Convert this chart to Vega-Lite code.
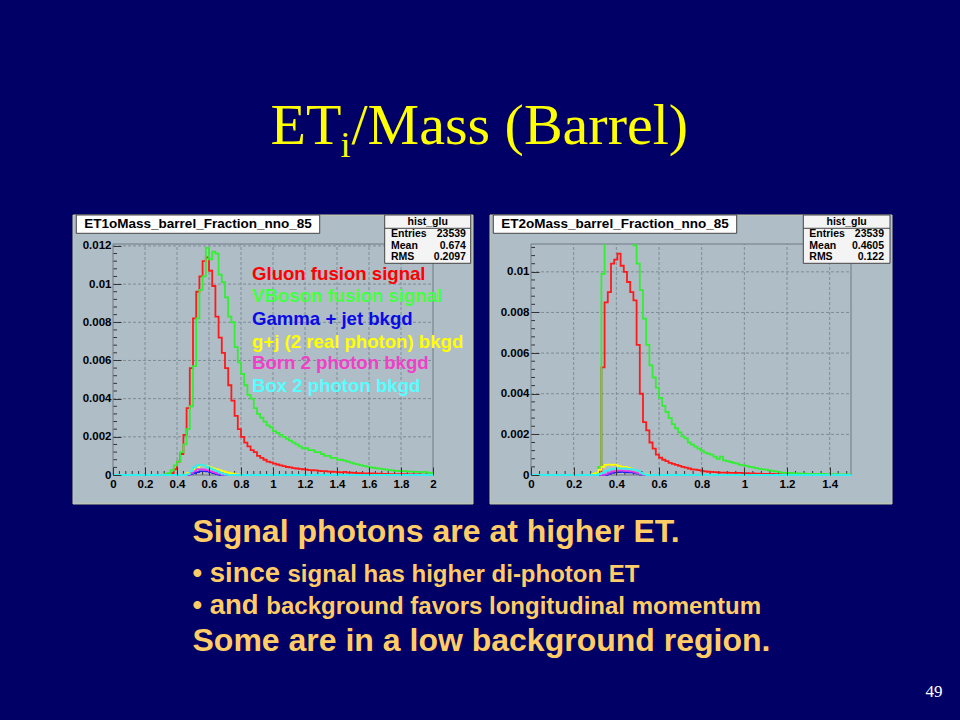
{
"$schema": "https://vega.github.io/schema/vega-lite/v6.json",
"background": "#000066",
"padding": {"left": 72, "top": 0, "right": 0, "bottom": 0},
"config": {"view": {"stroke": null}, "axis": {"labelOverlap": false, "labelSeparation": 0}},
"spacing": 0,
"datasets": {
"L": [
{"s":"r","x":0,"y":0},{"s":"r","x":0.34,"y":0.00005},{"s":"r","x":0.36,"y":0.0001},{"s":"r","x":0.38,"y":0.0003},{"s":"r","x":0.40,"y":0.0007},{"s":"r","x":0.42,"y":0.0011},{"s":"r","x":0.44,"y":0.0021},{"s":"r","x":0.46,"y":0.0035},{"s":"r","x":0.48,"y":0.0056},{"s":"r","x":0.50,"y":0.0082},{"s":"r","x":0.52,"y":0.0096},{"s":"r","x":0.54,"y":0.0104},{"s":"r","x":0.56,"y":0.0112},{"s":"r","x":0.58,"y":0.0114},{"s":"r","x":0.60,"y":0.0107},{"s":"r","x":0.62,"y":0.0099},{"s":"r","x":0.64,"y":0.0083},{"s":"r","x":0.66,"y":0.0072},{"s":"r","x":0.68,"y":0.0064},{"s":"r","x":0.70,"y":0.0056},{"s":"r","x":0.72,"y":0.0047},{"s":"r","x":0.74,"y":0.0039},{"s":"r","x":0.76,"y":0.0031},{"s":"r","x":0.78,"y":0.0024},{"s":"r","x":0.80,"y":0.0020},{"s":"r","x":0.82,"y":0.0017},{"s":"r","x":0.84,"y":0.0015},{"s":"r","x":0.86,"y":0.0013},{"s":"r","x":0.88,"y":0.0012},{"s":"r","x":0.90,"y":0.0010},{"s":"r","x":0.92,"y":0.0009},{"s":"r","x":0.94,"y":0.0008},{"s":"r","x":0.96,"y":0.0007},{"s":"r","x":0.98,"y":0.00066},{"s":"r","x":1.00,"y":0.0006},{"s":"r","x":1.02,"y":0.00055},{"s":"r","x":1.04,"y":0.0005},{"s":"r","x":1.06,"y":0.00046},{"s":"r","x":1.08,"y":0.00042},{"s":"r","x":1.10,"y":0.0004},{"s":"r","x":1.12,"y":0.00036},{"s":"r","x":1.14,"y":0.00034},{"s":"r","x":1.16,"y":0.00032},{"s":"r","x":1.18,"y":0.0003},{"s":"r","x":1.20,"y":0.00028},{"s":"r","x":1.22,"y":0.00026},{"s":"r","x":1.24,"y":0.00025},{"s":"r","x":1.26,"y":0.00024},{"s":"r","x":1.28,"y":0.00022},{"s":"r","x":1.30,"y":0.0002},{"s":"r","x":1.34,"y":0.00018},{"s":"r","x":1.36,"y":0.00017},{"s":"r","x":1.38,"y":0.00016},{"s":"r","x":1.40,"y":0.00015},{"s":"r","x":1.42,"y":0.00014},{"s":"r","x":1.44,"y":0.00016},{"s":"r","x":1.46,"y":0.00012},{"s":"r","x":1.50,"y":0.00011},{"s":"r","x":1.52,"y":0.0001},{"s":"r","x":1.56,"y":0.00009},{"s":"r","x":1.60,"y":0.00008},{"s":"r","x":1.64,"y":0.00007},{"s":"r","x":1.68,"y":0.00006},{"s":"r","x":1.72,"y":0.00005},{"s":"r","x":1.78,"y":0.00004},{"s":"r","x":1.84,"y":0.00003},{"s":"r","x":1.92,"y":0.00002},{"s":"r","x":2.0,"y":0.00002},
{"s":"g","x":0,"y":0},{"s":"g","x":0.32,"y":0.00005},{"s":"g","x":0.34,"y":0.0001},{"s":"g","x":0.36,"y":0.00025},{"s":"g","x":0.38,"y":0.0005},{"s":"g","x":0.40,"y":0.0007},{"s":"g","x":0.42,"y":0.0012},{"s":"g","x":0.44,"y":0.0016},{"s":"g","x":0.46,"y":0.0024},{"s":"g","x":0.48,"y":0.0036},{"s":"g","x":0.50,"y":0.0057},{"s":"g","x":0.52,"y":0.0082},{"s":"g","x":0.54,"y":0.0097},{"s":"g","x":0.56,"y":0.0104},{"s":"g","x":0.58,"y":0.0119},{"s":"g","x":0.60,"y":0.0113},{"s":"g","x":0.62,"y":0.0117},{"s":"g","x":0.64,"y":0.0116},{"s":"g","x":0.66,"y":0.0105},{"s":"g","x":0.68,"y":0.0101},{"s":"g","x":0.70,"y":0.0093},{"s":"g","x":0.72,"y":0.0083},{"s":"g","x":0.74,"y":0.0080},{"s":"g","x":0.76,"y":0.0067},{"s":"g","x":0.78,"y":0.0059},{"s":"g","x":0.80,"y":0.0053},{"s":"g","x":0.82,"y":0.0047},{"s":"g","x":0.84,"y":0.0042},{"s":"g","x":0.86,"y":0.0040},{"s":"g","x":0.88,"y":0.0035},{"s":"g","x":0.90,"y":0.0032},{"s":"g","x":0.92,"y":0.0030},{"s":"g","x":0.94,"y":0.0028},{"s":"g","x":0.96,"y":0.0026},{"s":"g","x":0.98,"y":0.0025},{"s":"g","x":1.00,"y":0.0023},{"s":"g","x":1.02,"y":0.0022},{"s":"g","x":1.04,"y":0.0021},{"s":"g","x":1.06,"y":0.0020},{"s":"g","x":1.08,"y":0.0019},{"s":"g","x":1.10,"y":0.0018},{"s":"g","x":1.12,"y":0.0017},{"s":"g","x":1.14,"y":0.0016},{"s":"g","x":1.16,"y":0.0015},{"s":"g","x":1.18,"y":0.0014},{"s":"g","x":1.22,"y":0.0013},{"s":"g","x":1.26,"y":0.0012},{"s":"g","x":1.30,"y":0.0011},{"s":"g","x":1.32,"y":0.0010},{"s":"g","x":1.36,"y":0.0009},{"s":"g","x":1.40,"y":0.0008},{"s":"g","x":1.44,"y":0.00075},{"s":"g","x":1.46,"y":0.0007},{"s":"g","x":1.48,"y":0.00065},{"s":"g","x":1.50,"y":0.0006},{"s":"g","x":1.52,"y":0.00056},{"s":"g","x":1.54,"y":0.00052},{"s":"g","x":1.56,"y":0.00048},{"s":"g","x":1.58,"y":0.00044},{"s":"g","x":1.60,"y":0.0004},{"s":"g","x":1.62,"y":0.00038},{"s":"g","x":1.64,"y":0.00035},{"s":"g","x":1.66,"y":0.00033},{"s":"g","x":1.68,"y":0.0003},{"s":"g","x":1.70,"y":0.00028},{"s":"g","x":1.72,"y":0.00026},{"s":"g","x":1.74,"y":0.00024},{"s":"g","x":1.76,"y":0.00022},{"s":"g","x":1.78,"y":0.00021},{"s":"g","x":1.80,"y":0.0002},{"s":"g","x":1.84,"y":0.00018},{"s":"g","x":1.88,"y":0.00016},{"s":"g","x":1.92,"y":0.00014},{"s":"g","x":1.94,"y":0.00016},{"s":"g","x":1.96,"y":0.00012},{"s":"g","x":1.98,"y":0.0001},{"s":"g","x":2.0,"y":0.0001},
{"s":"b","x":0,"y":0},{"s":"b","x":0.48,"y":0.00005},{"s":"b","x":0.50,"y":0.0001},{"s":"b","x":0.52,"y":0.00015},{"s":"b","x":0.54,"y":0.0002},{"s":"b","x":0.56,"y":0.0002},{"s":"b","x":0.58,"y":0.00018},{"s":"b","x":0.60,"y":0.00015},{"s":"b","x":0.62,"y":0.0001},{"s":"b","x":0.64,"y":0.00005},{"s":"b","x":0.66,"y":0},{"s":"b","x":2.0,"y":0},
{"s":"y","x":0,"y":0},{"s":"y","x":0.44,"y":0.00003},{"s":"y","x":0.46,"y":0.0001},{"s":"y","x":0.48,"y":0.0002},{"s":"y","x":0.50,"y":0.0003},{"s":"y","x":0.52,"y":0.0004},{"s":"y","x":0.54,"y":0.0005},{"s":"y","x":0.56,"y":0.0005},{"s":"y","x":0.58,"y":0.00045},{"s":"y","x":0.60,"y":0.0004},{"s":"y","x":0.62,"y":0.00035},{"s":"y","x":0.64,"y":0.0003},{"s":"y","x":0.66,"y":0.00025},{"s":"y","x":0.68,"y":0.0002},{"s":"y","x":0.70,"y":0.00015},{"s":"y","x":0.72,"y":0.0001},{"s":"y","x":0.74,"y":0.00007},{"s":"y","x":0.76,"y":0.00004},{"s":"y","x":0.78,"y":0.00002},{"s":"y","x":0.80,"y":0},{"s":"y","x":2.0,"y":0},
{"s":"m","x":0,"y":0},{"s":"m","x":0.48,"y":0.0001},{"s":"m","x":0.50,"y":0.0002},{"s":"m","x":0.52,"y":0.0003},{"s":"m","x":0.54,"y":0.0003},{"s":"m","x":0.56,"y":0.00028},{"s":"m","x":0.58,"y":0.00025},{"s":"m","x":0.60,"y":0.0002},{"s":"m","x":0.62,"y":0.00015},{"s":"m","x":0.64,"y":0.0001},{"s":"m","x":0.66,"y":0.00005},{"s":"m","x":0.68,"y":0},{"s":"m","x":2.0,"y":0},
{"s":"c","x":0,"y":0},{"s":"c","x":0.46,"y":0.00005},{"s":"c","x":0.48,"y":0.0002},{"s":"c","x":0.50,"y":0.0004},{"s":"c","x":0.52,"y":0.0005},{"s":"c","x":0.54,"y":0.00053},{"s":"c","x":0.56,"y":0.0005},{"s":"c","x":0.58,"y":0.00042},{"s":"c","x":0.60,"y":0.00035},{"s":"c","x":0.62,"y":0.00028},{"s":"c","x":0.64,"y":0.0002},{"s":"c","x":0.66,"y":0.00012},{"s":"c","x":0.68,"y":0.00006},{"s":"c","x":0.70,"y":0.00002},{"s":"c","x":0.72,"y":0},{"s":"c","x":2.0,"y":0}
],
"R": [
{"s":"r","x":0,"y":0},{"s":"r","x":0.315,"y":0.00003},{"s":"r","x":0.33,"y":0.0053},{"s":"r","x":0.345,"y":0.0085},{"s":"r","x":0.36,"y":0.0090},{"s":"r","x":0.375,"y":0.0104},{"s":"r","x":0.39,"y":0.0106},{"s":"r","x":0.405,"y":0.0109},{"s":"r","x":0.42,"y":0.0103},{"s":"r","x":0.435,"y":0.0100},{"s":"r","x":0.45,"y":0.0095},{"s":"r","x":0.465,"y":0.0090},{"s":"r","x":0.48,"y":0.0086},{"s":"r","x":0.495,"y":0.0064},{"s":"r","x":0.51,"y":0.0040},{"s":"r","x":0.525,"y":0.0026},{"s":"r","x":0.54,"y":0.0022},{"s":"r","x":0.555,"y":0.0016},{"s":"r","x":0.57,"y":0.0013},{"s":"r","x":0.585,"y":0.0010},{"s":"r","x":0.60,"y":0.00085},{"s":"r","x":0.615,"y":0.00075},{"s":"r","x":0.63,"y":0.00068},{"s":"r","x":0.645,"y":0.0006},{"s":"r","x":0.66,"y":0.00055},{"s":"r","x":0.675,"y":0.0005},{"s":"r","x":0.69,"y":0.00045},{"s":"r","x":0.705,"y":0.0004},{"s":"r","x":0.72,"y":0.00036},{"s":"r","x":0.735,"y":0.00032},{"s":"r","x":0.75,"y":0.00028},{"s":"r","x":0.765,"y":0.00026},{"s":"r","x":0.78,"y":0.00024},{"s":"r","x":0.795,"y":0.0002},{"s":"r","x":0.81,"y":0.00018},{"s":"r","x":0.825,"y":0.00016},{"s":"r","x":0.84,"y":0.00015},{"s":"r","x":0.855,"y":0.00014},{"s":"r","x":0.87,"y":0.00013},{"s":"r","x":0.885,"y":0.00012},{"s":"r","x":0.90,"y":0.00012},{"s":"r","x":0.93,"y":0.0001},{"s":"r","x":0.96,"y":0.0001},{"s":"r","x":0.99,"y":0.00009},{"s":"r","x":1.02,"y":0.00008},{"s":"r","x":1.05,"y":0.00007},{"s":"r","x":1.08,"y":0.00006},{"s":"r","x":1.11,"y":0.00005},{"s":"r","x":1.14,"y":0.00004},{"s":"r","x":1.17,"y":0.00003},{"s":"r","x":1.2,"y":0.00002},{"s":"r","x":1.3,"y":0.00001},{"s":"r","x":1.5,"y":0.00001},
{"s":"g","x":0,"y":0},{"s":"g","x":0.30,"y":0.0001},{"s":"g","x":0.315,"y":0.0004},{"s":"g","x":0.33,"y":0.0099},{"s":"g","x":0.345,"y":0.0140},{"s":"g","x":0.36,"y":0.0150},{"s":"g","x":0.375,"y":0.0155},{"s":"g","x":0.39,"y":0.0158},{"s":"g","x":0.405,"y":0.0156},{"s":"g","x":0.42,"y":0.0152},{"s":"g","x":0.435,"y":0.0148},{"s":"g","x":0.45,"y":0.0140},{"s":"g","x":0.465,"y":0.0130},{"s":"g","x":0.48,"y":0.0113},{"s":"g","x":0.495,"y":0.0104},{"s":"g","x":0.51,"y":0.0091},{"s":"g","x":0.525,"y":0.0077},{"s":"g","x":0.54,"y":0.0064},{"s":"g","x":0.555,"y":0.0054},{"s":"g","x":0.57,"y":0.0048},{"s":"g","x":0.585,"y":0.0043},{"s":"g","x":0.60,"y":0.0038},{"s":"g","x":0.615,"y":0.0034},{"s":"g","x":0.63,"y":0.0031},{"s":"g","x":0.645,"y":0.0028},{"s":"g","x":0.66,"y":0.0025},{"s":"g","x":0.675,"y":0.0023},{"s":"g","x":0.69,"y":0.0021},{"s":"g","x":0.705,"y":0.0019},{"s":"g","x":0.72,"y":0.0018},{"s":"g","x":0.735,"y":0.0016},{"s":"g","x":0.75,"y":0.0015},{"s":"g","x":0.765,"y":0.0014},{"s":"g","x":0.78,"y":0.0013},{"s":"g","x":0.795,"y":0.0012},{"s":"g","x":0.81,"y":0.0011},{"s":"g","x":0.825,"y":0.00105},{"s":"g","x":0.84,"y":0.0010},{"s":"g","x":0.855,"y":0.0009},{"s":"g","x":0.87,"y":0.0008},{"s":"g","x":0.885,"y":0.0009},{"s":"g","x":0.90,"y":0.00072},{"s":"g","x":0.915,"y":0.00068},{"s":"g","x":0.93,"y":0.00064},{"s":"g","x":0.945,"y":0.0006},{"s":"g","x":0.96,"y":0.00056},{"s":"g","x":0.975,"y":0.0005},{"s":"g","x":0.99,"y":0.00047},{"s":"g","x":1.005,"y":0.00045},{"s":"g","x":1.02,"y":0.0004},{"s":"g","x":1.035,"y":0.00038},{"s":"g","x":1.05,"y":0.00034},{"s":"g","x":1.065,"y":0.0003},{"s":"g","x":1.08,"y":0.00028},{"s":"g","x":1.095,"y":0.00026},{"s":"g","x":1.11,"y":0.00023},{"s":"g","x":1.125,"y":0.0002},{"s":"g","x":1.14,"y":0.00018},{"s":"g","x":1.155,"y":0.00015},{"s":"g","x":1.17,"y":0.00012},{"s":"g","x":1.185,"y":0.0001},{"s":"g","x":1.23,"y":0.00008},{"s":"g","x":1.26,"y":0.00007},{"s":"g","x":1.29,"y":0.00006},{"s":"g","x":1.32,"y":0.00005},{"s":"g","x":1.38,"y":0.00004},{"s":"g","x":1.44,"y":0.00003},{"s":"g","x":1.5,"y":0.00003},
{"s":"b","x":0,"y":0},{"s":"b","x":0.36,"y":0.00005},{"s":"b","x":0.375,"y":0.0001},{"s":"b","x":0.39,"y":0.00012},{"s":"b","x":0.405,"y":0.00014},{"s":"b","x":0.42,"y":0.00015},{"s":"b","x":0.435,"y":0.00014},{"s":"b","x":0.45,"y":0.00013},{"s":"b","x":0.465,"y":0.00012},{"s":"b","x":0.48,"y":0.0001},{"s":"b","x":0.495,"y":0.00006},{"s":"b","x":0.51,"y":0.00002},{"s":"b","x":0.525,"y":0},{"s":"b","x":1.5,"y":0},
{"s":"y","x":0,"y":0},{"s":"y","x":0.285,"y":0.00005},{"s":"y","x":0.30,"y":0.0001},{"s":"y","x":0.315,"y":0.00025},{"s":"y","x":0.33,"y":0.0004},{"s":"y","x":0.345,"y":0.0005},{"s":"y","x":0.36,"y":0.00052},{"s":"y","x":0.375,"y":0.0005},{"s":"y","x":0.39,"y":0.00052},{"s":"y","x":0.405,"y":0.00045},{"s":"y","x":0.42,"y":0.0004},{"s":"y","x":0.435,"y":0.0004},{"s":"y","x":0.45,"y":0.00035},{"s":"y","x":0.465,"y":0.00028},{"s":"y","x":0.48,"y":0.0002},{"s":"y","x":0.495,"y":0.00012},{"s":"y","x":0.51,"y":0.00008},{"s":"y","x":0.525,"y":0.00004},{"s":"y","x":0.54,"y":0.00002},{"s":"y","x":0.555,"y":0},{"s":"y","x":1.5,"y":0},
{"s":"m","x":0,"y":0},{"s":"m","x":0.345,"y":0.00005},{"s":"m","x":0.36,"y":0.00012},{"s":"m","x":0.375,"y":0.00018},{"s":"m","x":0.39,"y":0.0002},{"s":"m","x":0.405,"y":0.00022},{"s":"m","x":0.42,"y":0.00022},{"s":"m","x":0.435,"y":0.0002},{"s":"m","x":0.45,"y":0.0002},{"s":"m","x":0.465,"y":0.00018},{"s":"m","x":0.48,"y":0.00015},{"s":"m","x":0.495,"y":0.0001},{"s":"m","x":0.51,"y":0.00004},{"s":"m","x":0.525,"y":0},{"s":"m","x":1.5,"y":0},
{"s":"c","x":0,"y":0},{"s":"c","x":0.315,"y":0.00005},{"s":"c","x":0.33,"y":0.0001},{"s":"c","x":0.345,"y":0.0002},{"s":"c","x":0.36,"y":0.00025},{"s":"c","x":0.375,"y":0.0003},{"s":"c","x":0.39,"y":0.00032},{"s":"c","x":0.405,"y":0.00033},{"s":"c","x":0.42,"y":0.00033},{"s":"c","x":0.435,"y":0.00032},{"s":"c","x":0.45,"y":0.0003},{"s":"c","x":0.465,"y":0.00028},{"s":"c","x":0.48,"y":0.00025},{"s":"c","x":0.495,"y":0.0002},{"s":"c","x":0.51,"y":0.0001},{"s":"c","x":0.525,"y":0.00003},{"s":"c","x":0.54,"y":0},{"s":"c","x":1.5,"y":0}
],
"LXm": [{"v":0.04},{"v":0.08},{"v":0.12},{"v":0.16},{"v":0.24},{"v":0.28},{"v":0.32},{"v":0.36},{"v":0.44},{"v":0.48},{"v":0.52},{"v":0.56},{"v":0.64},{"v":0.68},{"v":0.72},{"v":0.76},{"v":0.84},{"v":0.88},{"v":0.92},{"v":0.96},{"v":1.04},{"v":1.08},{"v":1.12},{"v":1.16},{"v":1.24},{"v":1.28},{"v":1.32},{"v":1.36},{"v":1.44},{"v":1.48},{"v":1.52},{"v":1.56},{"v":1.64},{"v":1.68},{"v":1.72},{"v":1.76},{"v":1.84},{"v":1.88},{"v":1.92},{"v":1.96}],
"RXm": [{"v":0.04},{"v":0.08},{"v":0.12},{"v":0.16},{"v":0.24},{"v":0.28},{"v":0.32},{"v":0.36},{"v":0.44},{"v":0.48},{"v":0.52},{"v":0.56},{"v":0.64},{"v":0.68},{"v":0.72},{"v":0.76},{"v":0.84},{"v":0.88},{"v":0.92},{"v":0.96},{"v":1.04},{"v":1.08},{"v":1.12},{"v":1.16},{"v":1.24},{"v":1.28},{"v":1.32},{"v":1.36},{"v":1.44},{"v":1.48}],
"LYm": [{"v":0.0004},{"v":0.0008},{"v":0.0012},{"v":0.0016},{"v":0.0024},{"v":0.0028},{"v":0.0032},{"v":0.0036},{"v":0.0044},{"v":0.0048},{"v":0.0052},{"v":0.0056},{"v":0.0064},{"v":0.0068},{"v":0.0072},{"v":0.0076},{"v":0.0084},{"v":0.0088},{"v":0.0092},{"v":0.0096},{"v":0.0104},{"v":0.0108},{"v":0.0112},{"v":0.0116}],
"RYm": [{"v":0.0004},{"v":0.0008},{"v":0.0012},{"v":0.0016},{"v":0.0024},{"v":0.0028},{"v":0.0032},{"v":0.0036},{"v":0.0044},{"v":0.0048},{"v":0.0052},{"v":0.0056},{"v":0.0064},{"v":0.0068},{"v":0.0072},{"v":0.0076},{"v":0.0084},{"v":0.0088},{"v":0.0092},{"v":0.0096},{"v":0.0104},{"v":0.0108},{"v":0.0112}]
},
"vconcat": [
{
 "width": 848, "height": 214,
 "layer": [
  {"data": {"values": [{"t": "ET"}]}, "mark": {"type": "text", "font": "Liberation Serif", "fontSize": 58, "color": "#ffff00", "align": "left", "baseline": "alphabetic"},
   "encoding": {"x": {"datum": 157.5, "type": "quantitative", "scale": {"domain": [0, 848], "nice": false, "zero": false}, "axis": null}, "y": {"datum": 144, "type": "quantitative", "scale": {"domain": [0, 214], "reverse": true, "nice": false, "zero": false}, "axis": null}, "text": {"field": "t", "type": "nominal"}}},
  {"data": {"values": [{"t": "i"}]}, "mark": {"type": "text", "font": "Liberation Serif", "fontSize": 36, "color": "#ffff00", "align": "left", "baseline": "alphabetic"},
   "encoding": {"x": {"datum": 227.5, "type": "quantitative", "scale": {"domain": [0, 848], "nice": false, "zero": false}, "axis": null}, "y": {"datum": 157, "type": "quantitative", "scale": {"domain": [0, 214], "reverse": true, "nice": false, "zero": false}, "axis": null}, "text": {"field": "t", "type": "nominal"}}},
  {"data": {"values": [{"t": "/Mass (Barrel)"}]}, "mark": {"type": "text", "font": "Liberation Serif", "fontSize": 58, "color": "#ffff00", "align": "left", "baseline": "alphabetic"},
   "encoding": {"x": {"datum": 238.5, "type": "quantitative", "scale": {"domain": [0, 848], "nice": false, "zero": false}, "axis": null}, "y": {"datum": 144, "type": "quantitative", "scale": {"domain": [0, 214], "reverse": true, "nice": false, "zero": false}, "axis": null}, "text": {"field": "t", "type": "nominal"}}}
 ]
},
{
 "spacing": 15,
 "hconcat": [
 {
  "width": 320, "height": 231,
  "layer": [
   {"data": {"values": [{"k": "frame"}]}, "mark": {"type": "rect", "fill": "#afbdc7", "stroke": "#c6cd9c", "strokeWidth": 1},
    "encoding": {"x": {"datum": -0.25, "type": "quantitative", "scale": {"domain": [0, 2], "nice": false, "zero": false}}, "x2": {"datum": 2.25}, "y": {"datum": -0.001519, "type": "quantitative", "scale": {"domain": [0, 0.0121], "nice": false, "zero": false}}, "y2": {"datum": 0.013619}}},
   {"data": {"values": [{"g": 0.2},{"g": 0.4},{"g": 0.6},{"g": 0.8},{"g": 1},{"g": 1.2},{"g": 1.4},{"g": 1.6},{"g": 1.8}]}, "mark": {"type": "rule", "color": "#7f8c96", "strokeWidth": 1, "strokeDash": [3, 2]},
    "encoding": {"x": {"field": "g", "type": "quantitative", "scale": {"domain": [0, 2], "nice": false, "zero": false}}, "y": {"datum": 0, "type": "quantitative", "scale": {"domain": [0, 0.0121], "nice": false, "zero": false}}, "y2": {"datum": 0.0121}}},
   {"data": {"values": [{"g": 0.002},{"g": 0.004},{"g": 0.006},{"g": 0.008},{"g": 0.01},{"g": 0.012}]}, "mark": {"type": "rule", "color": "#7f8c96", "strokeWidth": 1, "strokeDash": [3, 2]},
    "encoding": {"y": {"field": "g", "type": "quantitative", "scale": {"domain": [0, 0.0121], "nice": false, "zero": false}}, "x": {"datum": 0, "type": "quantitative", "scale": {"domain": [0, 2], "nice": false, "zero": false}}, "x2": {"datum": 2}}},
   {"data": {"name": "LXm"}, "mark": {"type": "rule", "color": "#333333", "strokeWidth": 1},
    "encoding": {"x": {"field": "v", "type": "quantitative", "scale": {"domain": [0, 2], "nice": false, "zero": false}}, "y": {"datum": 0, "type": "quantitative", "scale": {"domain": [0, 0.0121], "nice": false, "zero": false}}, "y2": {"datum": 0.00021}}},
   {"data": {"name": "LYm"}, "mark": {"type": "rule", "color": "#333333", "strokeWidth": 1},
    "encoding": {"y": {"field": "v", "type": "quantitative", "scale": {"domain": [0, 0.0121], "nice": false, "zero": false}}, "x": {"datum": 0, "type": "quantitative", "scale": {"domain": [0, 2], "nice": false, "zero": false}}, "x2": {"datum": 0.025}}},
   {"data": {"values": [{"k": "box"}]}, "mark": {"type": "rect", "filled": false, "stroke": "#6f7b85", "strokeWidth": 1},
    "encoding": {"x": {"datum": 0, "type": "quantitative", "scale": {"domain": [0, 2], "nice": false, "zero": false}}, "x2": {"datum": 2}, "y": {"datum": 0, "type": "quantitative", "scale": {"domain": [0, 0.0121], "nice": false, "zero": false}}, "y2": {"datum": 0.0121}}},
   {"data": {"name": "L"}, "transform": [{"filter": "datum.s === 'r'"}], "mark": {"type": "line", "interpolate": "step-after", "color": "#ff1a1a", "strokeWidth": 1.8, "clip": true},
    "encoding": {"x": {"field": "x", "type": "quantitative", "scale": {"domain": [0, 2], "nice": false, "zero": false},
       "axis": {"values": [0,0.2,0.4,0.6,0.8,1,1.2,1.4,1.6,1.8,2], "tickCount": 30, "format": "~g", "grid": false, "domain": false, "tickSize": -8, "tickColor": "#333333", "labelPadding": 11, "labelFont": "Liberation Sans", "labelFontWeight": "bold", "labelFontSize": 11.5, "labelColor": "#000000", "labelFlush": false, "labelOverlap": false, "labelSeparation": 0, "title": null, "zindex": 1}},
     "y": {"field": "y", "type": "quantitative", "scale": {"domain": [0, 0.0121], "nice": false, "zero": false},
       "axis": {"values": [0,0.002,0.004,0.006,0.008,0.01,0.012], "tickCount": 30, "format": "~g", "grid": false, "domain": false, "tickSize": -8, "tickColor": "#333333", "labelPadding": 10, "labelFont": "Liberation Sans", "labelFontWeight": "bold", "labelFontSize": 11.5, "labelColor": "#000000", "labelOverlap": false, "labelSeparation": 0, "title": null, "zindex": 1}}}},
   {"data": {"name": "L"}, "transform": [{"filter": "datum.s === 'g'"}], "mark": {"type": "line", "interpolate": "step-after", "color": "#33ee33", "strokeWidth": 1.8, "clip": true},
    "encoding": {"x": {"field": "x", "type": "quantitative", "scale": {"domain": [0, 2], "nice": false, "zero": false}}, "y": {"field": "y", "type": "quantitative", "scale": {"domain": [0, 0.0121], "nice": false, "zero": false}}}},
   {"data": {"name": "L"}, "transform": [{"filter": "datum.s === 'b'"}], "mark": {"type": "line", "interpolate": "step-after", "color": "#2222ee", "strokeWidth": 1.6},
    "encoding": {"x": {"field": "x", "type": "quantitative", "scale": {"domain": [0, 2], "nice": false, "zero": false}}, "y": {"field": "y", "type": "quantitative", "scale": {"domain": [0, 0.0121], "nice": false, "zero": false}}}},
   {"data": {"name": "L"}, "transform": [{"filter": "datum.s === 'y'"}], "mark": {"type": "line", "interpolate": "step-after", "color": "#ffff00", "strokeWidth": 1.6},
    "encoding": {"x": {"field": "x", "type": "quantitative", "scale": {"domain": [0, 2], "nice": false, "zero": false}}, "y": {"field": "y", "type": "quantitative", "scale": {"domain": [0, 0.0121], "nice": false, "zero": false}}}},
   {"data": {"name": "L"}, "transform": [{"filter": "datum.s === 'm'"}], "mark": {"type": "line", "interpolate": "step-after", "color": "#ee33ee", "strokeWidth": 1.6},
    "encoding": {"x": {"field": "x", "type": "quantitative", "scale": {"domain": [0, 2], "nice": false, "zero": false}}, "y": {"field": "y", "type": "quantitative", "scale": {"domain": [0, 0.0121], "nice": false, "zero": false}}}},
   {"data": {"name": "L"}, "transform": [{"filter": "datum.s === 'c'"}], "mark": {"type": "line", "interpolate": "step-after", "color": "#33eeee", "strokeWidth": 1.8},
    "encoding": {"x": {"field": "x", "type": "quantitative", "scale": {"domain": [0, 2], "nice": false, "zero": false}}, "y": {"field": "y", "type": "quantitative", "scale": {"domain": [0, 0.0121], "nice": false, "zero": false}}}},
   {"data": {"values": [{"k": "tbox"}]}, "mark": {"type": "rect", "fill": "#ffffff", "stroke": "#444444", "strokeWidth": 1},
    "encoding": {"x": {"datum": -0.2294, "type": "quantitative", "scale": {"domain": [0, 2], "nice": false, "zero": false}}, "x2": {"datum": 1.2919}, "y": {"datum": 0.01266, "type": "quantitative", "scale": {"domain": [0, 0.0121], "nice": false, "zero": false}}, "y2": {"datum": 0.013619}}},
   {"data": {"values": [{"t": "ET1oMass_barrel_Fraction_nno_85"}]}, "mark": {"type": "text", "font": "Liberation Sans", "fontWeight": "bold", "fontSize": 13.5, "color": "#000000", "align": "center", "baseline": "middle"},
    "encoding": {"x": {"datum": 0.53125, "type": "quantitative", "scale": {"domain": [0, 2], "nice": false, "zero": false}}, "y": {"datum": 0.013135, "type": "quantitative", "scale": {"domain": [0, 0.0121], "nice": false, "zero": false}}, "text": {"field": "t", "type": "nominal"}}},
   {"data": {"values": [{"k": "sbox"}]}, "mark": {"type": "rect", "fill": "#f4f4f4", "stroke": "#444444", "strokeWidth": 1},
    "encoding": {"x": {"datum": 1.6981, "type": "quantitative", "scale": {"domain": [0, 2], "nice": false, "zero": false}}, "x2": {"datum": 2.2356}, "y": {"datum": 0.011089, "type": "quantitative", "scale": {"domain": [0, 0.0121], "nice": false, "zero": false}}, "y2": {"datum": 0.013619}}},
   {"data": {"values": [{"k": "sep"}]}, "mark": {"type": "rule", "color": "#444444", "strokeWidth": 1},
    "encoding": {"x": {"datum": 1.6981, "type": "quantitative", "scale": {"domain": [0, 2], "nice": false, "zero": false}}, "x2": {"datum": 2.2356}, "y": {"datum": 0.012922, "type": "quantitative", "scale": {"domain": [0, 0.0121], "nice": false, "zero": false}}}},
   {"data": {"values": [{"t": "hist_glu"}]}, "mark": {"type": "text", "font": "Liberation Sans", "fontWeight": "bold", "fontSize": 10.5, "color": "#000000", "align": "center", "baseline": "middle"},
    "encoding": {"x": {"datum": 1.9669, "type": "quantitative", "scale": {"domain": [0, 2], "nice": false, "zero": false}}, "y": {"datum": 0.013252, "type": "quantitative", "scale": {"domain": [0, 0.0121], "nice": false, "zero": false}}, "text": {"field": "t", "type": "nominal"}}},
   {"data": {"values": [{"t": "Entries\nMean\nRMS"}]}, "mark": {"type": "text", "font": "Liberation Sans", "fontWeight": "bold", "fontSize": 10.5, "color": "#000000", "align": "left", "baseline": "middle", "lineBreak": "\n", "lineHeight": 11.7},
    "encoding": {"x": {"datum": 1.7375, "type": "quantitative", "scale": {"domain": [0, 2], "nice": false, "zero": false}}, "y": {"datum": 0.012624, "type": "quantitative", "scale": {"domain": [0, 0.0121], "nice": false, "zero": false}}, "text": {"field": "t", "type": "nominal"}}},
   {"data": {"values": [{"t": "23539\n0.674\n0.2097"}]}, "mark": {"type": "text", "font": "Liberation Sans", "fontWeight": "bold", "fontSize": 10.5, "color": "#000000", "align": "right", "baseline": "middle", "lineBreak": "\n", "lineHeight": 11.7},
    "encoding": {"x": {"datum": 2.206, "type": "quantitative", "scale": {"domain": [0, 2], "nice": false, "zero": false}}, "y": {"datum": 0.012624, "type": "quantitative", "scale": {"domain": [0, 0.0121], "nice": false, "zero": false}}, "text": {"field": "t", "type": "nominal"}}},
   {"data": {"values": [{"t": "Gluon fusion signal"}]}, "mark": {"type": "text", "font": "Liberation Sans", "fontWeight": "bold", "fontSize": 18.6, "color": "#ff0000", "align": "left", "baseline": "middle"},
    "encoding": {"x": {"datum": 0.86875, "type": "quantitative", "scale": {"domain": [0, 2], "nice": false, "zero": false}}, "y": {"datum": 0.010529, "type": "quantitative", "scale": {"domain": [0, 0.0121], "nice": false, "zero": false}}, "text": {"field": "t", "type": "nominal"}}},
   {"data": {"values": [{"t": "VBoson fusion signal"}]}, "mark": {"type": "text", "font": "Liberation Sans", "fontWeight": "bold", "fontSize": 18.6, "color": "#44ff44", "align": "left", "baseline": "middle"},
    "encoding": {"x": {"datum": 0.86875, "type": "quantitative", "scale": {"domain": [0, 2], "nice": false, "zero": false}}, "y": {"datum": 0.009376, "type": "quantitative", "scale": {"domain": [0, 0.0121], "nice": false, "zero": false}}, "text": {"field": "t", "type": "nominal"}}},
   {"data": {"values": [{"t": "Gamma + jet bkgd"}]}, "mark": {"type": "text", "font": "Liberation Sans", "fontWeight": "bold", "fontSize": 18.6, "color": "#0a0ae6", "align": "left", "baseline": "middle"},
    "encoding": {"x": {"datum": 0.86875, "type": "quantitative", "scale": {"domain": [0, 2], "nice": false, "zero": false}}, "y": {"datum": 0.008171, "type": "quantitative", "scale": {"domain": [0, 0.0121], "nice": false, "zero": false}}, "text": {"field": "t", "type": "nominal"}}},
   {"data": {"values": [{"t": "g+j (2 real photon) bkgd"}]}, "mark": {"type": "text", "font": "Liberation Sans", "fontWeight": "bold", "fontSize": 18.6, "color": "#ffff00", "align": "left", "baseline": "middle"},
    "encoding": {"x": {"datum": 0.86875, "type": "quantitative", "scale": {"domain": [0, 2], "nice": false, "zero": false}}, "y": {"datum": 0.006967, "type": "quantitative", "scale": {"domain": [0, 0.0121], "nice": false, "zero": false}}, "text": {"field": "t", "type": "nominal"}}},
   {"data": {"values": [{"t": "Born 2 photon bkgd"}]}, "mark": {"type": "text", "font": "Liberation Sans", "fontWeight": "bold", "fontSize": 18.6, "color": "#f040c8", "align": "left", "baseline": "middle"},
    "encoding": {"x": {"datum": 0.86875, "type": "quantitative", "scale": {"domain": [0, 2], "nice": false, "zero": false}}, "y": {"datum": 0.005867, "type": "quantitative", "scale": {"domain": [0, 0.0121], "nice": false, "zero": false}}, "text": {"field": "t", "type": "nominal"}}},
   {"data": {"values": [{"t": "Box 2 photon bkgd"}]}, "mark": {"type": "text", "font": "Liberation Sans", "fontWeight": "bold", "fontSize": 18.6, "color": "#55ffff", "align": "left", "baseline": "middle"},
    "encoding": {"x": {"datum": 0.86875, "type": "quantitative", "scale": {"domain": [0, 2], "nice": false, "zero": false}}, "y": {"datum": 0.004662, "type": "quantitative", "scale": {"domain": [0, 0.0121], "nice": false, "zero": false}}, "text": {"field": "t", "type": "nominal"}}}
  ]
 },
 {
  "width": 320, "height": 231,
  "layer": [
   {"data": {"values": [{"k": "frame"}]}, "mark": {"type": "rect", "fill": "#afbdc7", "stroke": "#c6cd9c", "strokeWidth": 1},
    "encoding": {"x": {"datum": -0.19219, "type": "quantitative", "scale": {"domain": [0, 1.5], "nice": false, "zero": false}}, "x2": {"datum": 1.69219}, "y": {"datum": -0.001427, "type": "quantitative", "scale": {"domain": [0, 0.01137], "nice": false, "zero": false}}, "y2": {"datum": 0.012797}}},
   {"data": {"values": [{"g": 0.2},{"g": 0.4},{"g": 0.6},{"g": 0.8},{"g": 1},{"g": 1.2},{"g": 1.4}]}, "mark": {"type": "rule", "color": "#7f8c96", "strokeWidth": 1, "strokeDash": [3, 2]},
    "encoding": {"x": {"field": "g", "type": "quantitative", "scale": {"domain": [0, 1.5], "nice": false, "zero": false}}, "y": {"datum": 0, "type": "quantitative", "scale": {"domain": [0, 0.01137], "nice": false, "zero": false}}, "y2": {"datum": 0.01137}}},
   {"data": {"values": [{"g": 0.002},{"g": 0.004},{"g": 0.006},{"g": 0.008},{"g": 0.01}]}, "mark": {"type": "rule", "color": "#7f8c96", "strokeWidth": 1, "strokeDash": [3, 2]},
    "encoding": {"y": {"field": "g", "type": "quantitative", "scale": {"domain": [0, 0.01137], "nice": false, "zero": false}}, "x": {"datum": 0, "type": "quantitative", "scale": {"domain": [0, 1.5], "nice": false, "zero": false}}, "x2": {"datum": 1.5}}},
   {"data": {"name": "RXm"}, "mark": {"type": "rule", "color": "#333333", "strokeWidth": 1},
    "encoding": {"x": {"field": "v", "type": "quantitative", "scale": {"domain": [0, 1.5], "nice": false, "zero": false}}, "y": {"datum": 0, "type": "quantitative", "scale": {"domain": [0, 0.01137], "nice": false, "zero": false}}, "y2": {"datum": 0.000197}}},
   {"data": {"name": "RYm"}, "mark": {"type": "rule", "color": "#333333", "strokeWidth": 1},
    "encoding": {"y": {"field": "v", "type": "quantitative", "scale": {"domain": [0, 0.01137], "nice": false, "zero": false}}, "x": {"datum": 0, "type": "quantitative", "scale": {"domain": [0, 1.5], "nice": false, "zero": false}}, "x2": {"datum": 0.01875}}},
   {"data": {"values": [{"k": "box"}]}, "mark": {"type": "rect", "filled": false, "stroke": "#6f7b85", "strokeWidth": 1},
    "encoding": {"x": {"datum": 0, "type": "quantitative", "scale": {"domain": [0, 1.5], "nice": false, "zero": false}}, "x2": {"datum": 1.5}, "y": {"datum": 0, "type": "quantitative", "scale": {"domain": [0, 0.01137], "nice": false, "zero": false}}, "y2": {"datum": 0.01137}}},
   {"data": {"name": "R"}, "transform": [{"filter": "datum.s === 'r'"}], "mark": {"type": "line", "interpolate": "step-after", "color": "#ff1a1a", "strokeWidth": 1.8, "clip": true},
    "encoding": {"x": {"field": "x", "type": "quantitative", "scale": {"domain": [0, 1.5], "nice": false, "zero": false},
       "axis": {"values": [0,0.2,0.4,0.6,0.8,1,1.2,1.4], "tickCount": 30, "format": "~g", "grid": false, "domain": false, "tickSize": -8, "tickColor": "#333333", "labelPadding": 11, "labelFont": "Liberation Sans", "labelFontWeight": "bold", "labelFontSize": 11.5, "labelColor": "#000000", "labelFlush": false, "labelOverlap": false, "labelSeparation": 0, "title": null, "zindex": 1}},
     "y": {"field": "y", "type": "quantitative", "scale": {"domain": [0, 0.01137], "nice": false, "zero": false},
       "axis": {"values": [0,0.002,0.004,0.006,0.008,0.01], "tickCount": 30, "format": "~g", "grid": false, "domain": false, "tickSize": -8, "tickColor": "#333333", "labelPadding": 10, "labelFont": "Liberation Sans", "labelFontWeight": "bold", "labelFontSize": 11.5, "labelColor": "#000000", "labelOverlap": false, "labelSeparation": 0, "title": null, "zindex": 1}}}},
   {"data": {"name": "R"}, "transform": [{"filter": "datum.s === 'g'"}], "mark": {"type": "line", "interpolate": "step-after", "color": "#33ee33", "strokeWidth": 1.8, "clip": true},
    "encoding": {"x": {"field": "x", "type": "quantitative", "scale": {"domain": [0, 1.5], "nice": false, "zero": false}}, "y": {"field": "y", "type": "quantitative", "scale": {"domain": [0, 0.01137], "nice": false, "zero": false}}}},
   {"data": {"name": "R"}, "transform": [{"filter": "datum.s === 'b'"}], "mark": {"type": "line", "interpolate": "step-after", "color": "#2222ee", "strokeWidth": 1.6},
    "encoding": {"x": {"field": "x", "type": "quantitative", "scale": {"domain": [0, 1.5], "nice": false, "zero": false}}, "y": {"field": "y", "type": "quantitative", "scale": {"domain": [0, 0.01137], "nice": false, "zero": false}}}},
   {"data": {"name": "R"}, "transform": [{"filter": "datum.s === 'y'"}], "mark": {"type": "line", "interpolate": "step-after", "color": "#ffff00", "strokeWidth": 1.6},
    "encoding": {"x": {"field": "x", "type": "quantitative", "scale": {"domain": [0, 1.5], "nice": false, "zero": false}}, "y": {"field": "y", "type": "quantitative", "scale": {"domain": [0, 0.01137], "nice": false, "zero": false}}}},
   {"data": {"name": "R"}, "transform": [{"filter": "datum.s === 'm'"}], "mark": {"type": "line", "interpolate": "step-after", "color": "#ee33ee", "strokeWidth": 1.6},
    "encoding": {"x": {"field": "x", "type": "quantitative", "scale": {"domain": [0, 1.5], "nice": false, "zero": false}}, "y": {"field": "y", "type": "quantitative", "scale": {"domain": [0, 0.01137], "nice": false, "zero": false}}}},
   {"data": {"name": "R"}, "transform": [{"filter": "datum.s === 'c'"}], "mark": {"type": "line", "interpolate": "step-after", "color": "#33eeee", "strokeWidth": 1.8},
    "encoding": {"x": {"field": "x", "type": "quantitative", "scale": {"domain": [0, 1.5], "nice": false, "zero": false}}, "y": {"field": "y", "type": "quantitative", "scale": {"domain": [0, 0.01137], "nice": false, "zero": false}}}},
   {"data": {"values": [{"k": "tbox"}]}, "mark": {"type": "rect", "fill": "#ffffff", "stroke": "#444444", "strokeWidth": 1},
    "encoding": {"x": {"datum": -0.1767, "type": "quantitative", "scale": {"domain": [0, 1.5], "nice": false, "zero": false}}, "x2": {"datum": 0.9642}, "y": {"datum": 0.011897, "type": "quantitative", "scale": {"domain": [0, 0.01137], "nice": false, "zero": false}}, "y2": {"datum": 0.012797}}},
   {"data": {"values": [{"t": "ET2oMass_barrel_Fraction_nno_85"}]}, "mark": {"type": "text", "font": "Liberation Sans", "fontWeight": "bold", "fontSize": 13.5, "color": "#000000", "align": "center", "baseline": "middle"},
    "encoding": {"x": {"datum": 0.39375, "type": "quantitative", "scale": {"domain": [0, 1.5], "nice": false, "zero": false}}, "y": {"datum": 0.012345, "type": "quantitative", "scale": {"domain": [0, 0.01137], "nice": false, "zero": false}}, "text": {"field": "t", "type": "nominal"}}},
   {"data": {"values": [{"k": "sbox"}]}, "mark": {"type": "rect", "fill": "#f4f4f4", "stroke": "#444444", "strokeWidth": 1},
    "encoding": {"x": {"datum": 1.2764, "type": "quantitative", "scale": {"domain": [0, 1.5], "nice": false, "zero": false}}, "x2": {"datum": 1.6828}, "y": {"datum": 0.01042, "type": "quantitative", "scale": {"domain": [0, 0.01137], "nice": false, "zero": false}}, "y2": {"datum": 0.012797}}},
   {"data": {"values": [{"k": "sep"}]}, "mark": {"type": "rule", "color": "#444444", "strokeWidth": 1},
    "encoding": {"x": {"datum": 1.2764, "type": "quantitative", "scale": {"domain": [0, 1.5], "nice": false, "zero": false}}, "x2": {"datum": 1.6828}, "y": {"datum": 0.012143, "type": "quantitative", "scale": {"domain": [0, 0.01137], "nice": false, "zero": false}}}},
   {"data": {"values": [{"t": "hist_glu"}]}, "mark": {"type": "text", "font": "Liberation Sans", "fontWeight": "bold", "fontSize": 10.5, "color": "#000000", "align": "center", "baseline": "middle"},
    "encoding": {"x": {"datum": 1.4796, "type": "quantitative", "scale": {"domain": [0, 1.5], "nice": false, "zero": false}}, "y": {"datum": 0.012453, "type": "quantitative", "scale": {"domain": [0, 0.01137], "nice": false, "zero": false}}, "text": {"field": "t", "type": "nominal"}}},
   {"data": {"values": [{"t": "Entries\nMean\nRMS"}]}, "mark": {"type": "text", "font": "Liberation Sans", "fontWeight": "bold", "fontSize": 10.5, "color": "#000000", "align": "left", "baseline": "middle", "lineBreak": "\n", "lineHeight": 11.7},
    "encoding": {"x": {"datum": 1.3045, "type": "quantitative", "scale": {"domain": [0, 1.5], "nice": false, "zero": false}}, "y": {"datum": 0.011862, "type": "quantitative", "scale": {"domain": [0, 0.01137], "nice": false, "zero": false}}, "text": {"field": "t", "type": "nominal"}}},
   {"data": {"values": [{"t": "23539\n0.4605\n0.122"}]}, "mark": {"type": "text", "font": "Liberation Sans", "fontWeight": "bold", "fontSize": 10.5, "color": "#000000", "align": "right", "baseline": "middle", "lineBreak": "\n", "lineHeight": 11.7},
    "encoding": {"x": {"datum": 1.6547, "type": "quantitative", "scale": {"domain": [0, 1.5], "nice": false, "zero": false}}, "y": {"datum": 0.011862, "type": "quantitative", "scale": {"domain": [0, 0.01137], "nice": false, "zero": false}}, "text": {"field": "t", "type": "nominal"}}}
  ]
 }
 ]
},
{
 "width": 848, "height": 217,
 "layer": [
  {"data": {"values": [{"t": "Signal photons are at higher ET."}]}, "mark": {"type": "text", "font": "Liberation Sans", "fontWeight": "bold", "fontSize": 32, "color": "#ffcc66", "align": "left", "baseline": "alphabetic"},
   "encoding": {"x": {"datum": 79.5, "type": "quantitative", "scale": {"domain": [0, 848], "nice": false, "zero": false}, "axis": null}, "y": {"datum": 37, "type": "quantitative", "scale": {"domain": [0, 217], "reverse": true, "nice": false, "zero": false}, "axis": null}, "text": {"field": "t", "type": "nominal"}}},
  {"data": {"values": [{"t": "• since"}]}, "mark": {"type": "text", "font": "Liberation Sans", "fontWeight": "bold", "fontSize": 27.5, "color": "#ffcc66", "align": "left", "baseline": "alphabetic"},
   "encoding": {"x": {"datum": 79.5, "type": "quantitative", "scale": {"domain": [0, 848], "nice": false, "zero": false}, "axis": null}, "y": {"datum": 77, "type": "quantitative", "scale": {"domain": [0, 217], "reverse": true, "nice": false, "zero": false}, "axis": null}, "text": {"field": "t", "type": "nominal"}}},
  {"data": {"values": [{"t": "signal has higher di-photon ET"}]}, "mark": {"type": "text", "font": "Liberation Sans", "fontWeight": "bold", "fontSize": 24, "color": "#ffcc66", "align": "left", "baseline": "alphabetic"},
   "encoding": {"x": {"datum": 174.5, "type": "quantitative", "scale": {"domain": [0, 848], "nice": false, "zero": false}, "axis": null}, "y": {"datum": 77, "type": "quantitative", "scale": {"domain": [0, 217], "reverse": true, "nice": false, "zero": false}, "axis": null}, "text": {"field": "t", "type": "nominal"}}},
  {"data": {"values": [{"t": "• and"}]}, "mark": {"type": "text", "font": "Liberation Sans", "fontWeight": "bold", "fontSize": 27.5, "color": "#ffcc66", "align": "left", "baseline": "alphabetic"},
   "encoding": {"x": {"datum": 79.5, "type": "quantitative", "scale": {"domain": [0, 848], "nice": false, "zero": false}, "axis": null}, "y": {"datum": 109, "type": "quantitative", "scale": {"domain": [0, 217], "reverse": true, "nice": false, "zero": false}, "axis": null}, "text": {"field": "t", "type": "nominal"}}},
  {"data": {"values": [{"t": "background favors longitudinal momentum"}]}, "mark": {"type": "text", "font": "Liberation Sans", "fontWeight": "bold", "fontSize": 24, "color": "#ffcc66", "align": "left", "baseline": "alphabetic"},
   "encoding": {"x": {"datum": 153.3, "type": "quantitative", "scale": {"domain": [0, 848], "nice": false, "zero": false}, "axis": null}, "y": {"datum": 109, "type": "quantitative", "scale": {"domain": [0, 217], "reverse": true, "nice": false, "zero": false}, "axis": null}, "text": {"field": "t", "type": "nominal"}}},
  {"data": {"values": [{"t": "Some are in a low background region."}]}, "mark": {"type": "text", "font": "Liberation Sans", "fontWeight": "bold", "fontSize": 32, "color": "#ffcc66", "align": "left", "baseline": "alphabetic"},
   "encoding": {"x": {"datum": 79.5, "type": "quantitative", "scale": {"domain": [0, 848], "nice": false, "zero": false}, "axis": null}, "y": {"datum": 146, "type": "quantitative", "scale": {"domain": [0, 217], "reverse": true, "nice": false, "zero": false}, "axis": null}, "text": {"field": "t", "type": "nominal"}}},
  {"data": {"values": [{"t": "49"}]}, "mark": {"type": "text", "font": "Liberation Serif", "fontSize": 17, "color": "#ffffff", "align": "right", "baseline": "alphabetic"},
   "encoding": {"x": {"datum": 829.5, "type": "quantitative", "scale": {"domain": [0, 848], "nice": false, "zero": false}, "axis": null}, "y": {"datum": 192, "type": "quantitative", "scale": {"domain": [0, 217], "reverse": true, "nice": false, "zero": false}, "axis": null}, "text": {"field": "t", "type": "nominal"}}}
 ]
}
]
}
